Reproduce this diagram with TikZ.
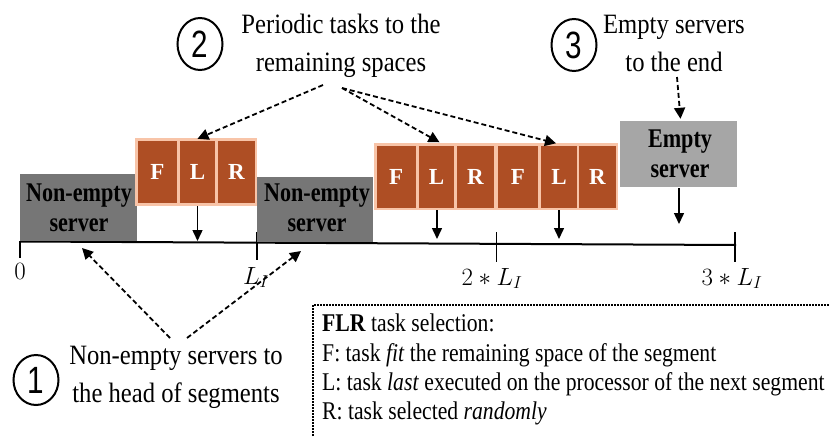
\documentclass[tikz,border=0pt]{standalone}
\usepackage{fontspec}
\setmainfont{Liberation Serif}
\newfontfamily\lblfont[FakeStretch=0.88]{Liberation Serif}
\newfontfamily\boxfont[FakeStretch=0.82]{Liberation Serif}
\newfontfamily\legfont[FakeStretch=0.85]{Liberation Serif}
\newfontfamily\numfont[FakeStretch=0.78]{Liberation Sans}
\usetikzlibrary{arrows.meta,shapes.geometric,calc}
\definecolor{darkbox}{RGB}{118,118,118}
\definecolor{lightbox}{RGB}{166,166,166}
\definecolor{rust}{RGB}{174,78,36}
\definecolor{peach}{RGB}{248,196,168}
\tikzset{
  lbl/.style={align=center,inner sep=0,font=\lblfont\fontsize{28}{38}\selectfont},
  numcirc/.style={ellipse,draw,line width=2pt,minimum width=45,minimum height=52,inner sep=0,font=\numfont\fontsize{38}{40}\selectfont},
  srv/.style={align=center,inner sep=0,font=\boxfont\bfseries\fontsize{27}{30}\selectfont},
  cellbox/.style={fill=rust,text=white,inner sep=0,font=\bfseries\fontsize{23}{24}\selectfont},
  outerbox/.style={fill=peach,inner sep=0},
  dasharrow/.style={line width=1.8pt,dash pattern=on 5pt off 3pt,-{Triangle[width=11pt,length=11pt]}},
  solidarrow/.style={line width=1.5pt,-{Triangle[width=10pt,length=11pt]}},
  axis/.style={line width=2pt},
  tick/.style={line width=1.6pt},
  mlab/.style={inner sep=0,font=\fontsize{27}{28}\selectfont},
  legend/.style={align=left,inner sep=0,font=\legfont\fontsize{25.5}{29.3}\selectfont}
}
\begin{document}
\begin{tikzpicture}[x=1pt,y=-1pt]
\useasboundingbox (0,0) rectangle (829,436);

% axis
\coordinate (ax0) at (20,241.5);
\coordinate (axE) at (736,245);
\draw[axis] (ax0) -- (axE);
\coordinate (k0a) at (20,241); \coordinate (k0b) at (20,258);
\coordinate (k1a) at (257,232); \coordinate (k1b) at (257,260);
\coordinate (k2a) at (496.5,232); \coordinate (k2b) at (496.5,262);
\coordinate (k3a) at (735,232); \coordinate (k3b) at (735,262);
\draw[tick] (k0a) -- (k0b);
\draw[tick] (k1a) -- (k1b);
\draw[tick] (k2a) -- (k2b);
\draw[tick] (k3a) -- (k3b);
\node[mlab,anchor=base] (l0) at (20,279) {$0$};
\node[mlab,anchor=base] (l1) at (256,284) {$L_I$};
\node[mlab,anchor=base] (l2) at (492,285) {$2*L_I$};
\node[mlab,anchor=base] (l3) at (732,285) {$3*L_I$};

% servers
\node[fill=darkbox,minimum width=117,minimum height=67,inner sep=0] (ne1) at (78.5,207.5) {};
\node[srv] (ne1t) at (79,208) {Non-empty\\server};
\node[fill=darkbox,minimum width=116,minimum height=65,inner sep=0] (ne2) at (315,209.5) {};
\node[srv] (ne2t) at (317,208) {Non-empty\\server};
\node[fill=lightbox,minimum width=117,minimum height=66,inner sep=0] (emp) at (678.5,154) {};
\node[srv] (empt) at (680,154) {Empty\\server};

% FLR block 1
\node[outerbox,minimum width=122,minimum height=68] (o1) at (196,172) {};
\node[cellbox,minimum width=39,minimum height=62] (b1F) at (157.5,172) {F};
\node[cellbox,minimum width=35,minimum height=62] (b1L) at (197.5,172) {L};
\node[cellbox,minimum width=37,minimum height=62] (b1R) at (236.5,172) {R};

% FLR block 2
\node[outerbox,minimum width=244,minimum height=67] (o2) at (496,176.5) {};
\node[cellbox,minimum width=39.5,minimum height=62] (b2F) at (396.25,176.5) {F};
\node[cellbox,minimum width=35,minimum height=62] (b2L) at (436.5,176.5) {L};
\node[cellbox,minimum width=37,minimum height=62] (b2R) at (475.5,176.5) {R};
\node[cellbox,minimum width=40,minimum height=62] (b3F) at (518,176.5) {F};
\node[cellbox,minimum width=36,minimum height=62] (b3L) at (559,176.5) {L};
\node[cellbox,minimum width=37,minimum height=62] (b3R) at (597.5,176.5) {R};

% down arrows
\coordinate (d1) at (197.5,241);
\coordinate (d2) at (437,239);
\coordinate (d3) at (559,239);
\coordinate (d4) at (679,224);
\draw[solidarrow] (o1.south -| b1L) -- (d1);
\draw[solidarrow] (o2.south -| d2) -- (d2);
\draw[solidarrow] (o2.south -| d3) -- (d3);
\draw[solidarrow] ($(emp.south)+(0.5,1)$) -- (d4);

% labels
\node[numcirc] (c2) at (200,44) {2};
\node[lbl] (t2) at (341,45.5) {Periodic tasks to the\\remaining spaces};
\node[numcirc] (c3) at (574,45) {3};
\node[lbl] (t3) at (674,43.5) {Empty servers\\to the end};
\node[numcirc,minimum height=50] (c1) at (36,380) {1};
\node[lbl] (t1) at (176,377) {Non-empty servers to\\the head of segments};

% dashed arrows
\coordinate (s2a) at (323,85);
\coordinate (s2b) at (342,88);
\draw[dasharrow] (s2a) -- ($(b1L.north)+(0,-2)$);
\draw[dasharrow] (s2b) -- ($(b2L.north)+(3,-3)$);
\draw[dasharrow] (s2b) -- ($(b3L.north)+(-3,-2)$);
\coordinate (s3) at (677,77);
\draw[dasharrow] (s3) -- ($(emp.north)+(2,-2)$);
\coordinate (s1a) at (170,338);
\coordinate (s1b) at (187,338);
\coordinate (e1a) at (82,248);
\coordinate (e1b) at (301,251);
\draw[dasharrow] (s1a) -- (e1a);
\draw[dasharrow] (s1b) -- (e1b);

% legend
\coordinate (lgA) at (313,436);
\coordinate (lgB) at (313,305);
\coordinate (lgC) at (829,305);
\draw[line width=1.2pt,dash pattern=on 1.8pt off 1.2pt] (lgA) -- (lgB) -- (lgC);
\node[legend,anchor=north west] (leg) at (322,314) {\textbf{FLR} task selection:\\F: task \textit{fit} the remaining space of the segment\\L: task \textit{last} executed on the processor of the next segment\\R: task selected \textit{randomly}};
\end{tikzpicture}
\end{document}
